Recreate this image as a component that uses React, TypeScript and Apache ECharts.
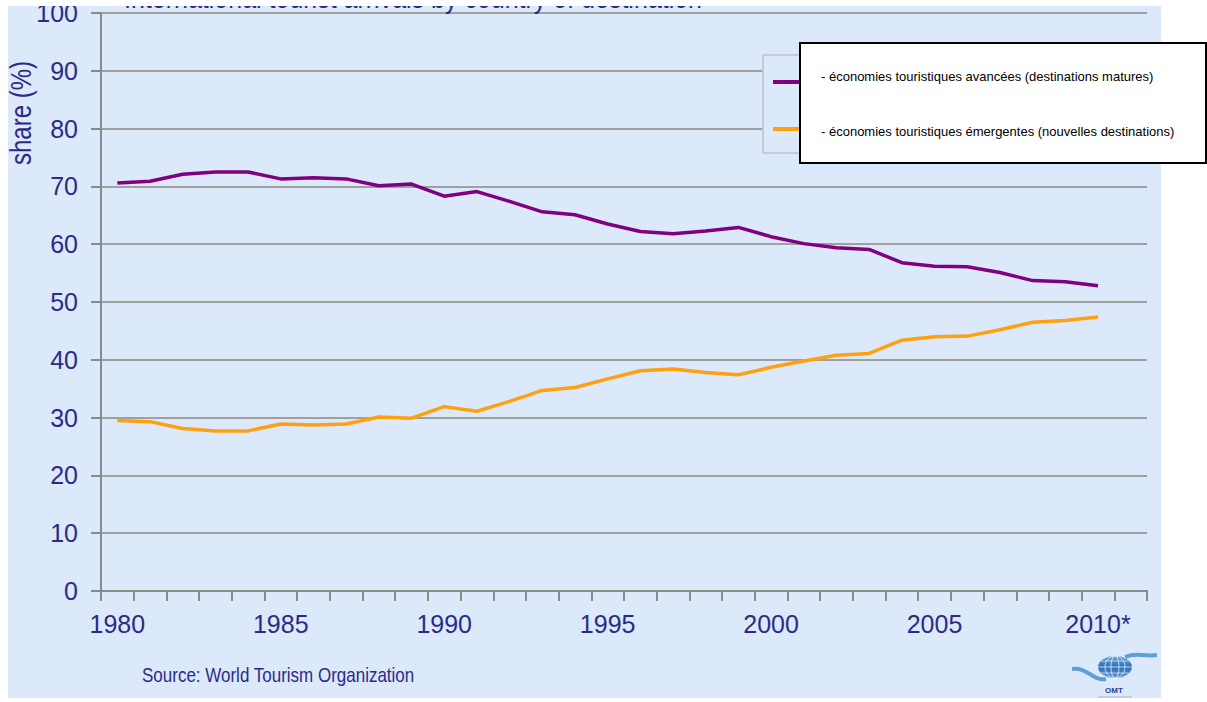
import React, { useEffect, useRef } from "react";
import * as echarts from "echarts";

const categories = [
  "1980", "1981", "1982", "1983", "1984", "1985", "1986", "1987", "1988", "1989",
  "1990", "1991", "1992", "1993", "1994", "1995", "1996", "1997", "1998", "1999",
  "2000", "2001", "2002", "2003", "2004", "2005", "2006", "2007", "2008", "2009",
  "2010", "2011",
];

const advanced = [
  70.6, 70.9, 72.1, 72.5, 72.5, 71.3, 71.5, 71.3, 70.1, 70.4,
  68.3, 69.1, 67.4, 65.6, 65.1, 63.5, 62.2, 61.8, 62.3, 62.9,
  61.3, 60.1, 59.4, 59.1, 56.8, 56.2, 56.1, 55.1, 53.7, 53.5,
  52.8,
];

const emerging = [
  29.5, 29.3, 28.1, 27.7, 27.7, 28.9, 28.7, 28.9, 30.1, 29.9,
  31.9, 31.1, 32.8, 34.7, 35.2, 36.7, 38.1, 38.4, 37.8, 37.4,
  38.7, 39.8, 40.8, 41.1, 43.4, 44.0, 44.1, 45.2, 46.5, 46.8,
  47.4,
];

const seriesNames = [
  "- économies touristiques avancées (destinations matures)",
  "- économies touristiques émergentes (nouvelles destinations)",
];

const xLabelOverrides: Record<string, string> = { "2010": "2010*" };

const TITLE = "International tourist arrivals by country of destination";
const SOURCE = "Source: World Tourism Organization";
const Y_NAME = "share (%)";

const FONT = "'Liberation Sans', Arial, sans-serif";
const NAVY = "#2b2b86";
const BG = "#dbe9fb";
const PURPLE = "#800080";
const ORANGE = "#ffa010";

export default function App() {
  const ref = useRef<HTMLDivElement>(null);

  useEffect(() => {
    if (!ref.current) return;
    const chart = echarts.init(ref.current, null, { renderer: "svg" });
    chart.setOption({
      animation: false,
      backgroundColor: "#ffffff",
      grid: { left: 101, right: 60, top: 13, bottom: 111, containLabel: false },
      xAxis: {
        type: "category",
        data: categories,
        boundaryGap: true,
        axisLine: { lineStyle: { color: "#8a8a8a", width: 2 } },
        axisTick: { show: true, interval: 0, length: 10, lineStyle: { color: "#8a8a8a", width: 2 } },
        axisLabel: {
          interval: 4,
          formatter: (v: string) => xLabelOverrides[v] ?? v,
          fontSize: 25,
          fontFamily: FONT,
          color: NAVY,
          margin: 20,
        },
        splitLine: { show: false },
      },
      yAxis: {
        type: "value",
        min: 0,
        max: 100,
        interval: 10,
        axisLine: { show: true, lineStyle: { color: "#8a8a8a", width: 2 } },
        axisTick: { show: true, length: 10, lineStyle: { color: "#8a8a8a", width: 2 } },
        axisLabel: { fontSize: 25, fontFamily: FONT, color: NAVY, margin: 23 },
        splitLine: { show: true, lineStyle: { color: "#a0a0a0", width: 2 } },
      },
      series: [
        {
          name: seriesNames[0],
          type: "line",
          data: advanced,
          showSymbol: false,
          lineStyle: { color: PURPLE, width: 3.5 },
          itemStyle: { color: PURPLE },
          z: 3,
        },
        {
          name: seriesNames[1],
          type: "line",
          data: emerging,
          showSymbol: false,
          lineStyle: { color: ORANGE, width: 3.5 },
          itemStyle: { color: ORANGE },
          z: 3,
        },
      ],
      graphic: [
        // blue panel behind everything
        { type: "rect", z: -100, silent: true, shape: { x: 8, y: 6, width: 1153, height: 692 }, style: { fill: BG } },
        // title, mostly hidden above the panel as in the original
        {
          type: "text", z: 50, x: 124, y: 13, scaleY: 1.15,
          style: { text: TITLE, fontSize: 25, fontFamily: FONT, fill: NAVY, align: "left", verticalAlign: "bottom" },
        },
        // white strip at top that clips the title
        { type: "rect", z: 100, silent: true, shape: { x: 0, y: 0, width: 1207, height: 6 }, style: { fill: "#ffffff" } },
        // y axis name
        {
          type: "text", z: 50, x: 21, y: 113, rotation: Math.PI / 2, scaleY: 1.25,
          style: { text: Y_NAME, fontSize: 24, fontFamily: FONT, fill: NAVY, align: "center", verticalAlign: "middle" },
        },
        // original legend box
        { type: "rect", z: 60, shape: { x: 763, y: 55, width: 400, height: 98 }, style: { fill: BG, stroke: "#c4c4c4", lineWidth: 1.5 } },
        { type: "line", z: 61, shape: { x1: 773, y1: 82, x2: 802, y2: 82 }, style: { stroke: PURPLE, lineWidth: 4 } },
        { type: "line", z: 61, shape: { x1: 773, y1: 129, x2: 802, y2: 129 }, style: { stroke: ORANGE, lineWidth: 4 } },
        // overlaid white legend
        { type: "rect", z: 70, shape: { x: 800, y: 43, width: 406, height: 120 }, style: { fill: "#ffffff", stroke: "#000000", lineWidth: 2 } },
        {
          type: "text", z: 71, x: 821, y: 76,
          style: { text: seriesNames[0], fontSize: 13, fontFamily: FONT, fill: "#000000", align: "left", verticalAlign: "middle" },
        },
        {
          type: "text", z: 71, x: 821, y: 131,
          style: { text: seriesNames[1], fontSize: 13, fontFamily: FONT, fill: "#000000", align: "left", verticalAlign: "middle" },
        },
        // source
        {
          type: "text", z: 50, x: 142, y: 675, scaleY: 1.2,
          style: { text: SOURCE, fontSize: 17, fontFamily: FONT, fill: NAVY, align: "left", verticalAlign: "middle" },
        },
        // OMT logo
        {
          type: "group", z: 50,
          children: [
            { type: "bezierCurve", shape: { x1: 1072, y1: 669, cpx1: 1088, cpy1: 667, cpx2: 1092, cpy2: 681, x2: 1106, y2: 679 }, style: { stroke: "#5f9fd4", lineWidth: 4, fill: null } },
            { type: "bezierCurve", shape: { x1: 1157, y1: 655, cpx1: 1142, cpy1: 657, cpx2: 1138, cpy2: 652, x2: 1125, y2: 657 }, style: { stroke: "#5f9fd4", lineWidth: 4, fill: null } },
            {
              type: "ellipse", shape: { cx: 1115, cy: 667, rx: 17, ry: 11 },
              style: {
                fill: new echarts.graphic.LinearGradient(0, 0, 0, 1, [
                  { offset: 0, color: "#6aa4dc" },
                  { offset: 0.5, color: "#2d6fb8" },
                  { offset: 1, color: "#5b98d6" },
                ]),
              },
            },
            { type: "ellipse", shape: { cx: 1115, cy: 667, rx: 10, ry: 11 }, style: { fill: null, stroke: "#ffffff", lineWidth: 0.7 } },
            { type: "ellipse", shape: { cx: 1115, cy: 667, rx: 4, ry: 11 }, style: { fill: null, stroke: "#ffffff", lineWidth: 0.7 } },
            { type: "line", shape: { x1: 1098, y1: 667, x2: 1132, y2: 667 }, style: { stroke: "#ffffff", lineWidth: 0.7 } },
            { type: "line", shape: { x1: 1101, y1: 661, x2: 1129, y2: 661 }, style: { stroke: "#ffffff", lineWidth: 0.6 } },
            { type: "line", shape: { x1: 1101, y1: 673, x2: 1129, y2: 673 }, style: { stroke: "#ffffff", lineWidth: 0.6 } },
            {
              type: "text", x: 1114, y: 690,
              style: { text: "OMT", fontSize: 8, fontWeight: "bold", fontFamily: FONT, fill: "#1f3f8f", align: "center", verticalAlign: "middle" },
            },
            { type: "line", shape: { x1: 1098, y1: 697, x2: 1132, y2: 697 }, style: { stroke: "#9fb4cf", lineWidth: 1 } },
          ],
        },
      ],
    });
    return () => chart.dispose();
  }, []);

  return (
    <div
      ref={ref}
      style={{ position: "fixed", left: 0, top: 0, width: 1207, height: 702 }}
    />
  );
}
